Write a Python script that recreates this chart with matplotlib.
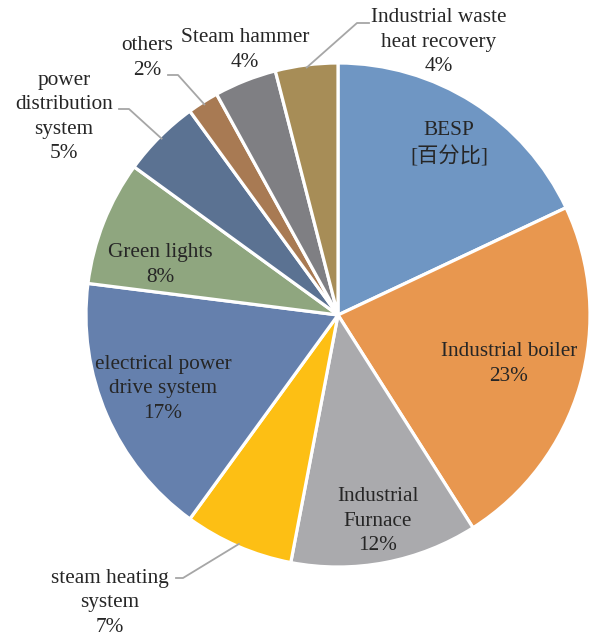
import numpy as np
import matplotlib
matplotlib.use("Agg")
import matplotlib.pyplot as plt

# slice data, clockwise from 12 o'clock
categories = [
    "BESP",
    "Industrial boiler",
    "Industrial\nFurnace",
    "steam heating\nsystem",
    "electrical power\ndrive system",
    "Green lights",
    "power\ndistribution\nsystem",
    "others",
    "Steam hammer",
    "Industrial waste\nheat recovery",
]
shares = [18, 23, 12, 7, 17, 8, 5, 2, 4, 4]
pct_labels = ["[百分比]", "23%", "12%", "7%", "17%", "8%", "5%", "2%", "4%", "4%"]

colors = ["#6F96C3", "#E8974F", "#AAAAAD", "#FDBF14", "#6580AD",
          "#8FA67F", "#5B7292", "#A87A53", "#7F7F83", "#A78D57"]

# label block centres in pixels (x, y from top), and leader elbows (None = no leader)
label_px = [(449, 144), (509, 364), (378, 521), (110, 603), (163, 389),
            (160, 265), (64, 117), (147, 58), (245, 50), (439, 42)]
elbow_px = [None, None, None, (183, 578), None,
            None, (129, 109), (178, 75), None, (357, 23)]
text_end_px = [None, None, None, (176, 578), None,
               None, (119, 109), (168, 75), None, (369, 23)]

W, H = 592, 638
CX, CY, R = 338, 315, 252

plt.rcParams["font.family"] = ["Liberation Serif", "Noto Sans CJK SC", "DejaVu Sans"]

fig = plt.figure(figsize=(W / 100, H / 100), dpi=100)
ax = fig.add_axes([(CX - R) / W, (H - CY - R) / H, 2 * R / W, 2 * R / H])

wedges, _ = ax.pie(shares, colors=colors, startangle=90, counterclock=False,
                   radius=1.0, wedgeprops=dict(edgecolor="white", linewidth=2.3))
ax.set_xlim(-1, 1)
ax.set_ylim(-1, 1)
ax.set_aspect("equal")
ax.axis("off")


def to_data(p):
    return (p[0] - CX) / R, (CY - p[1]) / R


for i, w in enumerate(wedges):
    x, y = to_data(label_px[i])
    ax.text(x, y, categories[i] + "\n" + pct_labels[i], ha="center", va="center",
            fontsize=15.3, color="#262626", linespacing=1.38, clip_on=False)
    if elbow_px[i] is not None:
        mid = np.deg2rad((w.theta1 + w.theta2) / 2)
        ex, ey = to_data(elbow_px[i])
        tx, ty = to_data(text_end_px[i])
        ax.plot([tx, ex, 0.99 * np.cos(mid)], [ty, ey, 0.99 * np.sin(mid)],
                color="#A6A6A6", linewidth=1.3, clip_on=False)

fig.savefig("out.png", dpi=100)
